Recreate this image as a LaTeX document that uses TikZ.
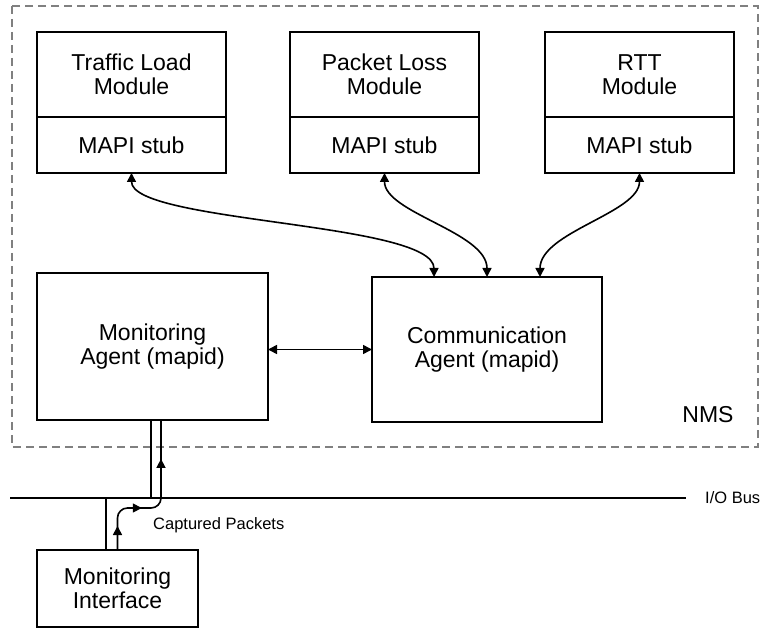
\documentclass[tikz,border=0pt]{standalone}
\usepackage{fontspec}
\setmainfont{Liberation Sans}
\usetikzlibrary{arrows.meta, positioning, decorations.markings}

\tikzset{
  >={Triangle[length=9pt,width=9pt]},
  block/.style={draw, line width=1.5pt, outer sep=0pt, inner sep=2pt, align=center,
    font=\fontsize{23}{24}\selectfont},
  module/.style={block, minimum width=189pt, minimum height=85pt},
  stubbox/.style={block, minimum width=189pt, minimum height=56pt},
  wire/.style={line width=1.6pt},
  link/.style={wire, <->},
  nmsline/.style={draw=gray, line width=1.2pt, dash pattern=on 8pt off 5pt},
  smalltext/.style={inner sep=0pt, font=\fontsize{16.5}{18}\selectfont},
  pktflow/.style={wire, rounded corners=10pt, postaction={decorate},
    decoration={markings,
      mark=at position 24pt with {\arrow{>}},
      mark=at position 62pt with {\arrow{>}},
      mark=at position 126pt with {\arrow{>}}}}
}

\begin{document}
\begin{tikzpicture}[x=1pt, y=-1pt]
  \useasboundingbox (0,0) rectangle (760,628);

  % NMS container
  \draw[nmsline] (12,6) rectangle (758,447);
  \node[inner sep=0pt, font=\fontsize{23}{24}\selectfont] (nms) at (708,415) {NMS};

  % measurement modules
  \node[module] (tl) at (131.5,74.5) {Traffic Load\\Module};
  \node[stubbox, below=0pt of tl] (tlstub) {MAPI stub};
  \node[module] (pl) at (384.5,74.5) {Packet Loss\\Module};
  \node[stubbox, below=0pt of pl] (plstub) {MAPI stub};
  \node[module] (rtt) at (639.5,74.5) {RTT\\Module};
  \node[stubbox, below=0pt of rtt] (rttstub) {MAPI stub};

  % agents
  \node[block, minimum width=231pt, minimum height=147pt] (ma) at (152.5,346.5)
    {Monitoring\\Agent (mapid)};
  \node[block, minimum width=230pt, minimum height=145pt] (comm) at (487,349.5)
    {Communication\\Agent (mapid)};

  % interface and bus
  \node[block, minimum width=161pt, minimum height=77pt] (mi) at (117.5,588.5)
    {Monitoring\\Interface};
  \coordinate (busL) at (10,498);
  \coordinate (busR) at (686,498);
  \node[smalltext, right=19pt of busR] (iobus) {I/O Bus};
  \node[smalltext, anchor=west] (cap) at (153,525) {Captured Packets};

  \draw[link] (tlstub.south) .. controls +(0,50) and +(0,-55) .. ([xshift=-53pt]comm.north);
  \draw[link] (plstub.south) .. controls +(0,40) and +(0,-45) .. (comm.north);
  \draw[link] (rttstub.south) .. controls +(0,40) and +(0,-45) .. ([xshift=53pt]comm.north);
  \draw[link] (ma.east |- comm.west) -- (comm.west);

  \draw[wire] (busL) -- (busR);
  \draw[wire] ([xshift=-1.5pt]ma.south) -- ([xshift=-1.5pt]ma.south |- busL);
  \draw[wire] ([xshift=-11.5pt]mi.north) -- ([xshift=-11.5pt]mi.north |- busL);
  \draw[pktflow] (mi.north) -- ++(0,-42) -| ([xshift=8.5pt]ma.south);
\end{tikzpicture}
\end{document}
